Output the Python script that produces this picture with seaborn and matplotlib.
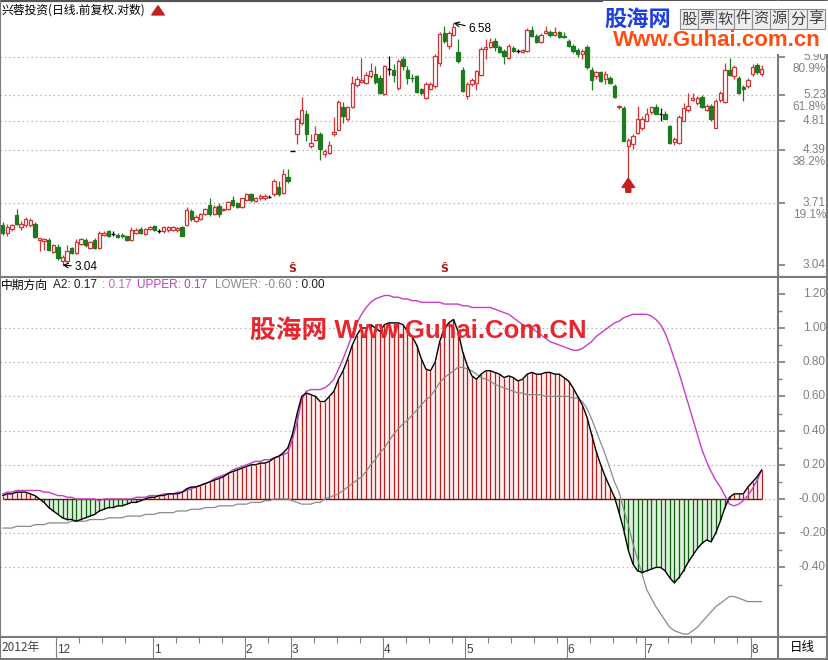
import numpy as np
import matplotlib
matplotlib.use('Agg')
import matplotlib.pyplot as plt
import matplotlib.transforms as mtrans
from matplotlib.lines import Line2D
from matplotlib.patches import Rectangle, FancyArrowPatch
from matplotlib.ticker import NullLocator, FixedLocator
import seaborn as sns

W, H = 829, 660

# daily candles (price, 前复权)
opens = [3.45, 3.37, 3.41, 3.57, 3.43, 3.45, 3.45, 3.46, 3.29, 3.28,
         3.29, 3.17, 3.22, 3.08, 3.08, 3.21, 3.16, 3.25, 3.29, 3.21,
         3.29, 3.21, 3.35, 3.39, 3.36, 3.35, 3.35, 3.33, 3.29, 3.37,
         3.41, 3.36, 3.41, 3.44, 3.39, 3.39, 3.40, 3.40, 3.40, 3.43,
         3.45, 3.61, 3.50, 3.52, 3.58, 3.68, 3.58, 3.67, 3.62, 3.64,
         3.74, 3.70, 3.66, 3.74, 3.81, 3.73, 3.76, 3.76, 3.78, 3.81,
         3.90, 3.82, 4.02, 4.37, 4.62, 4.79, 4.93, 4.45, 4.53, 4.62,
         4.33, 4.35, 4.62, 4.68, 5.03, 4.84, 5.03, 5.40, 5.46, 5.44,
         5.55, 5.60, 5.53, 5.25, 5.69, 5.67, 5.35, 5.86, 5.67, 5.53,
         5.55, 5.33, 5.18, 5.33, 5.39, 5.80, 6.38, 6.11, 6.34, 6.00,
         5.67, 5.21, 5.42, 5.44, 5.58, 6.05, 6.09, 6.21, 6.09, 6.01,
         5.88, 6.07, 6.01, 6.00, 6.01, 6.44, 6.31, 6.19, 6.38, 6.40,
         6.34, 6.40, 6.31, 6.21, 6.11, 6.03, 5.96, 6.09, 5.67, 5.55,
         5.62, 5.51, 5.53, 5.39, 5.03, 5.01, 4.45, 4.48, 4.64, 4.71,
         4.82, 4.95, 5.03, 4.93, 4.93, 4.73, 4.50, 4.49, 4.82, 4.98,
         5.15, 5.10, 5.20, 4.98, 5.05, 4.71, 5.15, 5.11, 5.67, 5.55,
         5.53, 5.37, 5.39, 5.60, 5.75, 5.60]
highs = [3.49, 3.46, 3.47, 3.64, 3.50, 3.54, 3.53, 3.49, 3.31, 3.31,
         3.31, 3.25, 3.25, 3.14, 3.24, 3.22, 3.30, 3.31, 3.31, 3.28,
         3.31, 3.39, 3.39, 3.40, 3.39, 3.37, 3.37, 3.34, 3.43, 3.42,
         3.43, 3.42, 3.44, 3.45, 3.41, 3.44, 3.44, 3.44, 3.43, 3.44,
         3.66, 3.64, 3.57, 3.59, 3.65, 3.76, 3.68, 3.70, 3.65, 3.73,
         3.79, 3.72, 3.77, 3.83, 3.83, 3.78, 3.81, 3.81, 3.80, 4.00,
         3.97, 4.13, 4.13, 4.37, 4.87, 5.20, 4.98, 4.62, 4.73, 4.65,
         4.40, 4.52, 4.87, 5.15, 5.11, 5.05, 5.55, 5.55, 5.88, 5.62,
         5.80, 5.73, 5.58, 5.75, 5.92, 5.77, 5.86, 5.92, 5.73, 5.60,
         5.58, 5.35, 5.46, 5.46, 5.96, 6.40, 6.52, 6.42, 6.58, 6.25,
         5.71, 5.46, 5.53, 5.67, 6.09, 6.25, 6.27, 6.27, 6.13, 6.05,
         6.15, 6.11, 6.05, 6.05, 6.48, 6.52, 6.36, 6.38, 6.52, 6.44,
         6.50, 6.42, 6.40, 6.25, 6.15, 6.07, 6.05, 6.13, 5.71, 5.65,
         5.65, 5.64, 5.56, 5.42, 5.06, 5.05, 4.56, 4.62, 5.05, 4.89,
         5.01, 5.05, 5.08, 5.01, 4.97, 4.76, 4.57, 4.90, 5.10, 5.26,
         5.26, 5.21, 5.23, 5.08, 5.08, 5.16, 5.30, 5.80, 5.88, 5.75,
         5.56, 5.40, 5.53, 5.77, 5.79, 5.75]
lows = [3.35, 3.34, 3.39, 3.45, 3.40, 3.43, 3.43, 3.31, 3.18, 3.19,
        3.18, 3.16, 3.09, 3.04, 3.06, 3.15, 3.15, 3.24, 3.22, 3.20,
        3.20, 3.20, 3.34, 3.32, 3.33, 3.31, 3.31, 3.28, 3.28, 3.36,
        3.36, 3.35, 3.40, 3.39, 3.37, 3.37, 3.38, 3.39, 3.38, 3.33,
        3.44, 3.50, 3.49, 3.51, 3.57, 3.55, 3.57, 3.54, 3.61, 3.62,
        3.66, 3.65, 3.65, 3.73, 3.72, 3.72, 3.74, 3.74, 3.76, 3.79,
        3.79, 3.81, 3.95, 4.37, 4.48, 4.76, 4.52, 4.42, 4.52, 4.25,
        4.29, 4.33, 4.59, 4.67, 4.79, 4.82, 5.01, 5.37, 5.44, 5.42,
        5.53, 5.42, 5.25, 5.23, 5.58, 5.46, 5.32, 5.67, 5.42, 5.46,
        5.26, 5.23, 5.16, 5.32, 5.35, 5.73, 6.17, 6.05, 6.31, 5.80,
        5.28, 5.16, 5.39, 5.32, 5.56, 5.86, 6.07, 6.01, 5.98, 5.77,
        5.86, 6.00, 5.98, 5.98, 6.00, 6.29, 6.17, 6.17, 6.36, 6.29,
        6.31, 6.27, 6.27, 6.09, 5.98, 5.90, 5.86, 5.69, 5.32, 5.51,
        5.45, 5.42, 5.42, 5.18, 5.00, 4.51, 4.01, 4.40, 4.62, 4.67,
        4.81, 4.93, 4.92, 4.82, 4.84, 4.48, 4.46, 4.47, 4.81, 4.95,
        5.13, 5.06, 5.01, 4.97, 4.82, 4.70, 5.11, 5.10, 5.55, 5.51,
        5.25, 5.13, 5.35, 5.56, 5.60, 5.56]
closes = [3.37, 3.43, 3.45, 3.47, 3.47, 3.52, 3.51, 3.32, 3.31, 3.30,
          3.19, 3.24, 3.11, 3.12, 3.18, 3.16, 3.27, 3.30, 3.24, 3.27,
          3.21, 3.37, 3.37, 3.33, 3.36, 3.32, 3.34, 3.29, 3.40, 3.40,
          3.37, 3.41, 3.43, 3.40, 3.39, 3.43, 3.43, 3.43, 3.42, 3.34,
          3.62, 3.52, 3.54, 3.58, 3.64, 3.58, 3.66, 3.58, 3.64, 3.72,
          3.68, 3.66, 3.76, 3.81, 3.74, 3.77, 3.79, 3.79, 3.78, 3.97,
          3.81, 4.06, 3.97, 4.37, 4.84, 4.98, 4.62, 4.49, 4.62, 4.40,
          4.37, 4.46, 4.65, 5.11, 4.89, 5.03, 5.44, 5.51, 5.49, 5.58,
          5.64, 5.46, 5.26, 5.73, 5.69, 5.58, 5.82, 5.73, 5.53, 5.52,
          5.28, 5.26, 5.42, 5.42, 5.92, 6.36, 6.21, 6.38, 6.50, 5.82,
          5.30, 5.42, 5.49, 5.64, 6.05, 6.09, 6.19, 6.09, 6.00, 5.92,
          6.11, 6.01, 6.01, 6.03, 6.44, 6.31, 6.19, 6.34, 6.42, 6.34,
          6.40, 6.29, 6.29, 6.11, 6.01, 5.96, 6.01, 5.71, 5.49, 5.62,
          5.47, 5.60, 5.44, 5.20, 5.05, 4.52, 4.53, 4.59, 4.85, 4.84,
          4.92, 5.03, 4.93, 4.93, 4.85, 4.49, 4.55, 4.87, 5.01, 5.05,
          5.18, 5.18, 5.03, 5.05, 4.84, 5.13, 5.26, 5.67, 5.58, 5.71,
          5.26, 5.33, 5.49, 5.71, 5.62, 5.69]

# 中期方向 indicator
a2 = [0.02, 0.03, 0.03, 0.04, 0.04, 0.04, 0.03, 0.02, 0.00, -0.02,
      -0.05, -0.07, -0.09, -0.11, -0.12, -0.12, -0.13, -0.12, -0.11, -0.10,
      -0.09, -0.07, -0.06, -0.05, -0.05, -0.04, -0.04, -0.03, -0.02, -0.02,
      -0.01, 0.00, 0.01, 0.01, 0.02, 0.02, 0.03, 0.03, 0.03, 0.04,
      0.06, 0.07, 0.07, 0.08, 0.09, 0.10, 0.11, 0.12, 0.13, 0.15,
      0.16, 0.17, 0.18, 0.19, 0.20, 0.20, 0.21, 0.21, 0.22, 0.24,
      0.25, 0.27, 0.30, 0.38, 0.50, 0.60, 0.62, 0.61, 0.60, 0.57,
      0.57, 0.60, 0.63, 0.70, 0.75, 0.82, 0.90, 0.96, 1.00, 1.00,
      1.02, 1.00, 0.98, 1.02, 1.03, 1.03, 1.03, 1.02, 0.98, 0.95,
      0.90, 0.82, 0.76, 0.75, 0.80, 0.92, 1.00, 1.03, 1.05, 0.98,
      0.86, 0.78, 0.72, 0.70, 0.73, 0.75, 0.75, 0.74, 0.73, 0.71,
      0.72, 0.71, 0.69, 0.70, 0.73, 0.74, 0.73, 0.73, 0.74, 0.74,
      0.73, 0.73, 0.71, 0.69, 0.65, 0.60, 0.55, 0.48, 0.38, 0.28,
      0.20, 0.13, 0.07, 0.01, -0.08, -0.18, -0.30, -0.38, -0.42, -0.43,
      -0.42, -0.41, -0.40, -0.40, -0.42, -0.46, -0.49, -0.46, -0.42, -0.37,
      -0.33, -0.29, -0.26, -0.24, -0.25, -0.20, -0.13, -0.05, 0.01, 0.03,
      0.03, 0.03, 0.07, 0.10, 0.13, 0.17]
upper = [0.03, 0.04, 0.04, 0.05, 0.05, 0.05, 0.05, 0.05, 0.05, 0.04,
         0.04, 0.03, 0.02, 0.02, 0.01, 0.01, 0.00, 0.00, 0.00, 0.00,
         0.00, -0.01, 0.00, 0.00, 0.00, 0.00, 0.00, 0.00, 0.00, 0.01,
         0.01, 0.01, 0.02, 0.02, 0.02, 0.03, 0.03, 0.03, 0.04, 0.04,
         0.05, 0.06, 0.07, 0.08, 0.09, 0.10, 0.12, 0.13, 0.14, 0.15,
         0.17, 0.18, 0.19, 0.20, 0.21, 0.22, 0.22, 0.23, 0.23, 0.24,
         0.25, 0.26, 0.27, 0.35, 0.45, 0.58, 0.63, 0.64, 0.64, 0.64,
         0.65, 0.67, 0.70, 0.76, 0.82, 0.89, 0.96, 1.03, 1.08, 1.12,
         1.15, 1.17, 1.18, 1.19, 1.19, 1.18, 1.18, 1.17, 1.17, 1.16,
         1.16, 1.15, 1.15, 1.15, 1.15, 1.15, 1.14, 1.14, 1.14, 1.14,
         1.13, 1.13, 1.12, 1.12, 1.12, 1.12, 1.12, 1.11, 1.10, 1.09,
         1.08, 1.06, 1.04, 1.02, 1.01, 1.00, 0.98, 0.96, 0.94, 0.92,
         0.91, 0.90, 0.89, 0.88, 0.87, 0.87, 0.88, 0.90, 0.92, 0.95,
         0.97, 0.99, 1.01, 1.03, 1.04, 1.06, 1.07, 1.08, 1.08, 1.08,
         1.08, 1.07, 1.05, 1.02, 0.97, 0.90, 0.82, 0.74, 0.65, 0.56,
         0.47, 0.38, 0.29, 0.22, 0.16, 0.11, 0.07, 0.02, -0.03, -0.04,
         -0.03, -0.01, 0.02, 0.06, 0.11, 0.17]
lower = [-0.17, -0.17, -0.17, -0.16, -0.16, -0.16, -0.16, -0.15, -0.15, -0.15,
         -0.14, -0.14, -0.14, -0.14, -0.14, -0.13, -0.13, -0.13, -0.13, -0.12,
         -0.12, -0.12, -0.12, -0.11, -0.11, -0.11, -0.11, -0.10, -0.10, -0.10,
         -0.10, -0.09, -0.09, -0.09, -0.08, -0.08, -0.08, -0.08, -0.07, -0.07,
         -0.07, -0.06, -0.06, -0.06, -0.05, -0.05, -0.05, -0.04, -0.04, -0.04,
         -0.04, -0.03, -0.03, -0.03, -0.02, -0.02, -0.02, -0.01, -0.01, 0.00,
         0.00, 0.00, 0.00, -0.01, -0.02, -0.03, -0.03, -0.03, -0.02, -0.02,
         0.00, 0.01, 0.02, 0.03, 0.05, 0.07, 0.09, 0.11, 0.13, 0.16,
         0.20, 0.23, 0.27, 0.30, 0.34, 0.38, 0.41, 0.44, 0.46, 0.49,
         0.52, 0.55, 0.58, 0.60, 0.64, 0.68, 0.71, 0.73, 0.75, 0.77,
         0.77, 0.76, 0.75, 0.73, 0.71, 0.70, 0.69, 0.67, 0.66, 0.65,
         0.64, 0.63, 0.62, 0.62, 0.61, 0.61, 0.61, 0.61, 0.60, 0.60,
         0.60, 0.60, 0.60, 0.60, 0.59, 0.59, 0.57, 0.53, 0.47, 0.40,
         0.33, 0.26, 0.18, 0.10, 0.04, -0.06, -0.15, -0.26, -0.35, -0.44,
         -0.53, -0.58, -0.63, -0.67, -0.71, -0.75, -0.77, -0.78, -0.79, -0.79,
         -0.77, -0.75, -0.72, -0.69, -0.66, -0.63, -0.61, -0.59, -0.57, -0.57,
         -0.58, -0.59, -0.60, -0.60, -0.60, -0.60]

month_labels = ['12', '1', '2', '3', '4', '5', '6', '7', '8']
month_idx = [12, 33, 53, 63, 83, 101, 123, 140, 163]
price_ticks = [5.90, 5.23, 4.81, 4.39, 3.71, 3.04]
price_labels = ['5.90', '5.23', '4.81', '4.39', '3.71', '3.04']
golden_ticks = [5.90, 5.23, 4.39, 3.71]
golden_labels = ['80.9%', '61.8%', '38.2%', '19.1%']
osc_ticks = [1.2, 1.0, 0.8, 0.6, 0.4, 0.2, 0.0, -0.2, -0.4]
osc_labels = ['1.20', '1.00', '0.80', '0.60', '0.40', '0.20', '-0.00', '-0.20', '-0.40']
low_mark, high_mark = 13, 98
info_marks = [63, 96]
arrow_day = 136

RED = '#d03434'
GREEN = '#1d7a1d'
GRAY = '#808080'
CJK = ['Noto Sans CJK SC', 'DejaVu Sans']
LAT = ['Liberation Sans', 'Noto Sans CJK SC', 'DejaVu Sans']
ARROW = 'simple,head_width=0.75,head_length=0.55,tail_width=0.3'

sns.set_theme(style='white')
plt.rcParams['font.family'] = CJK
plt.rcParams['axes.unicode_minus'] = False

n = len(closes)
idx = np.arange(n)
x0 = -2.7 / 4.6
x1 = (778 - 2.7) / 4.6


def fx(px):
    return px / W


def fy(py):
    return 1 - py / H


fig = plt.figure(figsize=(W / 100, H / 100), dpi=100)
fig.patch.set_facecolor('white')
ax1 = fig.add_axes([0, fy(276), fx(778), 276 / H])
ax2 = fig.add_axes([0, fy(636), fx(778), (636 - 278) / H])
ax3 = fig.add_axes([0, 0, fx(778), 23 / H])

for ax in (ax1, ax2, ax3):
    ax.set_facecolor('white')
    for s in ax.spines.values():
        s.set_visible(False)
    ax.set_xlim(x0, x1)
    ax.set_xticks([])

# ---- price panel ----
ax1.set_yscale('log')
ax1.set_ylim(np.exp(1.6544 - 181 / 313.4), np.exp(1.6544 + 95 / 313.4))
for i in range(n):
    o, h, l, c = opens[i], highs[i], lows[i], closes[i]
    if h == l:
        ax1.hlines(c, i - 0.45, i + 0.45, color='black', lw=1)
        continue
    if abs(c - o) < 0.005:
        col = 'black'
    elif c > o:
        col = RED
    else:
        col = GREEN
    top, bot = max(o, c), min(o, c)
    ax1.vlines(i, top, h, color=col, lw=0.9)
    ax1.vlines(i, l, bot, color=col, lw=0.9)
    if col == 'black':
        ax1.hlines(c, i - 0.38, i + 0.38, color='black', lw=1)
    else:
        ax1.add_patch(Rectangle((i - 0.37, bot), 0.74, top - bot,
                                facecolor='white' if col == RED else col,
                                edgecolor=col, lw=0.9, zorder=3))

for p in price_ticks[:-1]:
    ax1.axhline(p, color='#9a9a9a', lw=0.8, ls=(0, (1, 3)), zorder=0)

ax1.yaxis.set_ticks_position('right')
ax1.yaxis.set_major_locator(FixedLocator(price_ticks))
ax1.yaxis.set_minor_locator(NullLocator())
ax1.tick_params(axis='y', direction='out', length=5, color=GRAY,
                labelright=False, labelleft=False, right=True, left=False)
tr1 = mtrans.blended_transform_factory(ax1.transAxes, ax1.transData)
for p, lab in zip(price_ticks, price_labels):
    ax1.text(826 / 778, p, lab, transform=tr1, ha='right', va='center',
             color=GRAY, fontsize=8.5, family=LAT, clip_on=False)
gtr = tr1 + mtrans.ScaledTranslation(0, -12 / 100, fig.dpi_scale_trans)
for p, lab in zip(golden_ticks, golden_labels):
    ax1.text(826 / 778, p, lab, transform=gtr, ha='right', va='center',
             color=GRAY, fontsize=8.5, family=LAT, clip_on=False)

ax1.annotate(f'{lows[low_mark]:.2f}', xy=(low_mark, lows[low_mark]),
             xytext=(12, -2), textcoords='offset pixels', ha='left', va='center',
             fontsize=8.5, family=LAT, color='black',
             arrowprops=dict(arrowstyle='->', color='black', lw=0.8,
                             shrinkA=0, shrinkB=0))
ax1.annotate(f'{highs[high_mark]:.2f}', xy=(high_mark, highs[high_mark]),
             xytext=(15, -6), textcoords='offset pixels', ha='left', va='center',
             fontsize=8.5, family=LAT, color='black',
             arrowprops=dict(arrowstyle='->', color='black', lw=0.8,
                             shrinkA=0, shrinkB=0))
ax1.annotate('', xy=(arrow_day, lows[arrow_day]), xytext=(0, -14),
             textcoords='offset pixels',
             arrowprops=dict(arrowstyle=ARROW, mutation_scale=12,
                             color='#c41e1e', shrinkA=0, shrinkB=0))
trm = mtrans.blended_transform_factory(ax1.transData, ax1.transAxes)
for d in info_marks:
    ax1.text(d, 7 / 276, 'Ŝ', transform=trm, ha='center', va='center',
             color='#b01818', fontsize=8, fontweight='bold', family=['DejaVu Sans'])

# ---- indicator panel ----
a2v = np.array(a2)
ax2.set_ylim((499 - 636) / 171, (499 - 278) / 171)
ax2.fill_between(idx, 0, a2v, where=a2v >= 0, interpolate=True,
                 color='#fcefef', lw=0)
ax2.fill_between(idx, 0, a2v, where=a2v <= 0, interpolate=True,
                 color='#dcf1dc', lw=0)
pos = a2v > 0
ax2.vlines(idx[pos], 0, a2v[pos], color='#b52222', lw=0.9)
ax2.vlines(idx[~pos], a2v[~pos], 0, color='#0f5f0f', lw=0.9)
ax2.hlines(0, 0, n - 1, color='#7a1010', lw=1)
for t in osc_ticks[1:]:
    ax2.axhline(t, color='#9a9a9a', lw=0.8, ls=(0, (1, 3)), zorder=0)
sns.lineplot(x=idx, y=lower, ax=ax2, color='#8a8a8a', lw=0.9)
sns.lineplot(x=idx, y=upper, ax=ax2, color='#c83cc8', lw=1)
sns.lineplot(x=idx, y=a2v, ax=ax2, color='black', lw=1)
ax2.set_ylabel('')
ax2.yaxis.set_ticks_position('right')
ax2.yaxis.set_major_locator(FixedLocator(osc_ticks))
ax2.yaxis.set_minor_locator(FixedLocator([1.1, 0.9, 0.7, 0.5, 0.3, 0.1, -0.1, -0.3, -0.5]))
ax2.tick_params(axis='y', which='major', direction='out', length=5, color=GRAY,
                labelright=False, labelleft=False, right=True, left=False)
ax2.tick_params(axis='y', which='minor', direction='out', length=3, color=GRAY,
                right=True, left=False)
tr2 = mtrans.blended_transform_factory(ax2.transAxes, ax2.transData)
for t, lab in zip(osc_ticks, osc_labels):
    ax2.text(826 / 778, t, lab, transform=tr2, ha='right', va='center',
             color=GRAY, fontsize=8.5, family=LAT, clip_on=False)

# ---- date strip ----
ax3.set_ylim(0, 1)
ax3.set_yticks([])
for k, (m, lab) in enumerate(zip(month_idx, month_labels)):
    ax3.vlines(m - 0.4, 0, 1, color=GRAY, lw=0.8)
    ax3.text(m - 0.2, 0.45, lab, ha='left', va='center', fontsize=8.5,
             color='#404040', family=LAT)
    nxt = month_idx[k + 1] if k + 1 < len(month_idx) else n
    for w in range(m + 5, nxt - 1, 5):
        ax3.vlines(w - 0.4, 0.72, 1, color=GRAY, lw=0.8)
fig.text(fx(1), fy(648), '2012年', ha='left', va='center', fontsize=8.5,
         color='#404040')
fig.text(fx(802), fy(648), '日线', ha='center', va='center', fontsize=9,
         color='black')

# ---- headers ----
fig.text(fx(1), fy(10), '兴蓉投资(日线.前复权.对数)', ha='left', va='center',
         fontsize=8.5, color='black')
fig.add_artist(FancyArrowPatch((fx(158), fy(15)), (fx(158), fy(3)),
                               transform=fig.transFigure, arrowstyle=ARROW,
                               mutation_scale=12, color='#c41e1e'))

hy = fy(285)
fig.text(fx(1), hy, '中期方向', ha='left', va='center', fontsize=8.5, color='black')
parts = [(53, f'A2: {a2[-1]:.2f}', '#202020'),
         (102, f': {a2[-1]:.2f}', '#c860c8'),
         (137, f'UPPER: {upper[-1]:.2f}', '#b840b8'),
         (215, f'LOWER: {lower[-1]:.2f}', '#8a8a8a'),
         (295, ': 0.00', '#202020')]
for px_, s, col in parts:
    fig.text(fx(px_), hy, s, ha='left', va='center', fontsize=8.5,
             color=col, family=LAT)


# ---- frame ----
def fline(xa, ya, xb, yb, col='#7a7a7a', lw=1.5):
    fig.add_artist(Line2D([fx(xa), fx(xb)], [fy(ya), fy(yb)], color=col, lw=lw,
                          transform=fig.transFigure))


fline(0, 0.7, W, 0.7, '#555555', 1.6)
fline(0, 276.5, W, 276.5)
fline(0, 636.5, W, 636.5)
fline(0, 659.3, W, 659.3)
fline(0.5, 0, 0.5, H)
fline(778, 0, 778, H)
fline(827.5, 0, 827.5, H)

# ---- watermarks ----
fig.add_artist(Rectangle((fx(603), fy(54)), fx(829) - fx(603), 53 / H,
                         transform=fig.transFigure, facecolor='white',
                         edgecolor='none', zorder=5))
fig.text(fx(638), fy(19), '股海网', ha='center', va='center', fontsize=16,
         fontweight='bold', color='#1f3fdc', zorder=6)
for k, ch in enumerate('股票软件资源分享'):
    fig.text(fx(689 + k * 18.1), fy(19), ch, ha='center', va='center',
             fontsize=11, color='#404040', zorder=6,
             bbox=dict(boxstyle='square,pad=0.1', facecolor='#eeeeee',
                       edgecolor='#8c8c8c', lw=0.8))
fig.text(fx(717), fy(41), 'Www.Guhai.com.cn', ha='center', va='center',
         fontsize=16, fontweight='bold', color='#ff4d12', family=LAT, zorder=6)
fig.text(fx(418), fy(331), '股海网 Www.Guhai.Com.CN', ha='center', va='center',
         fontsize=18.5, fontweight='bold', color='#e8262d', family=LAT, zorder=6)

fig.savefig('out.png', dpi=100, facecolor='white')
